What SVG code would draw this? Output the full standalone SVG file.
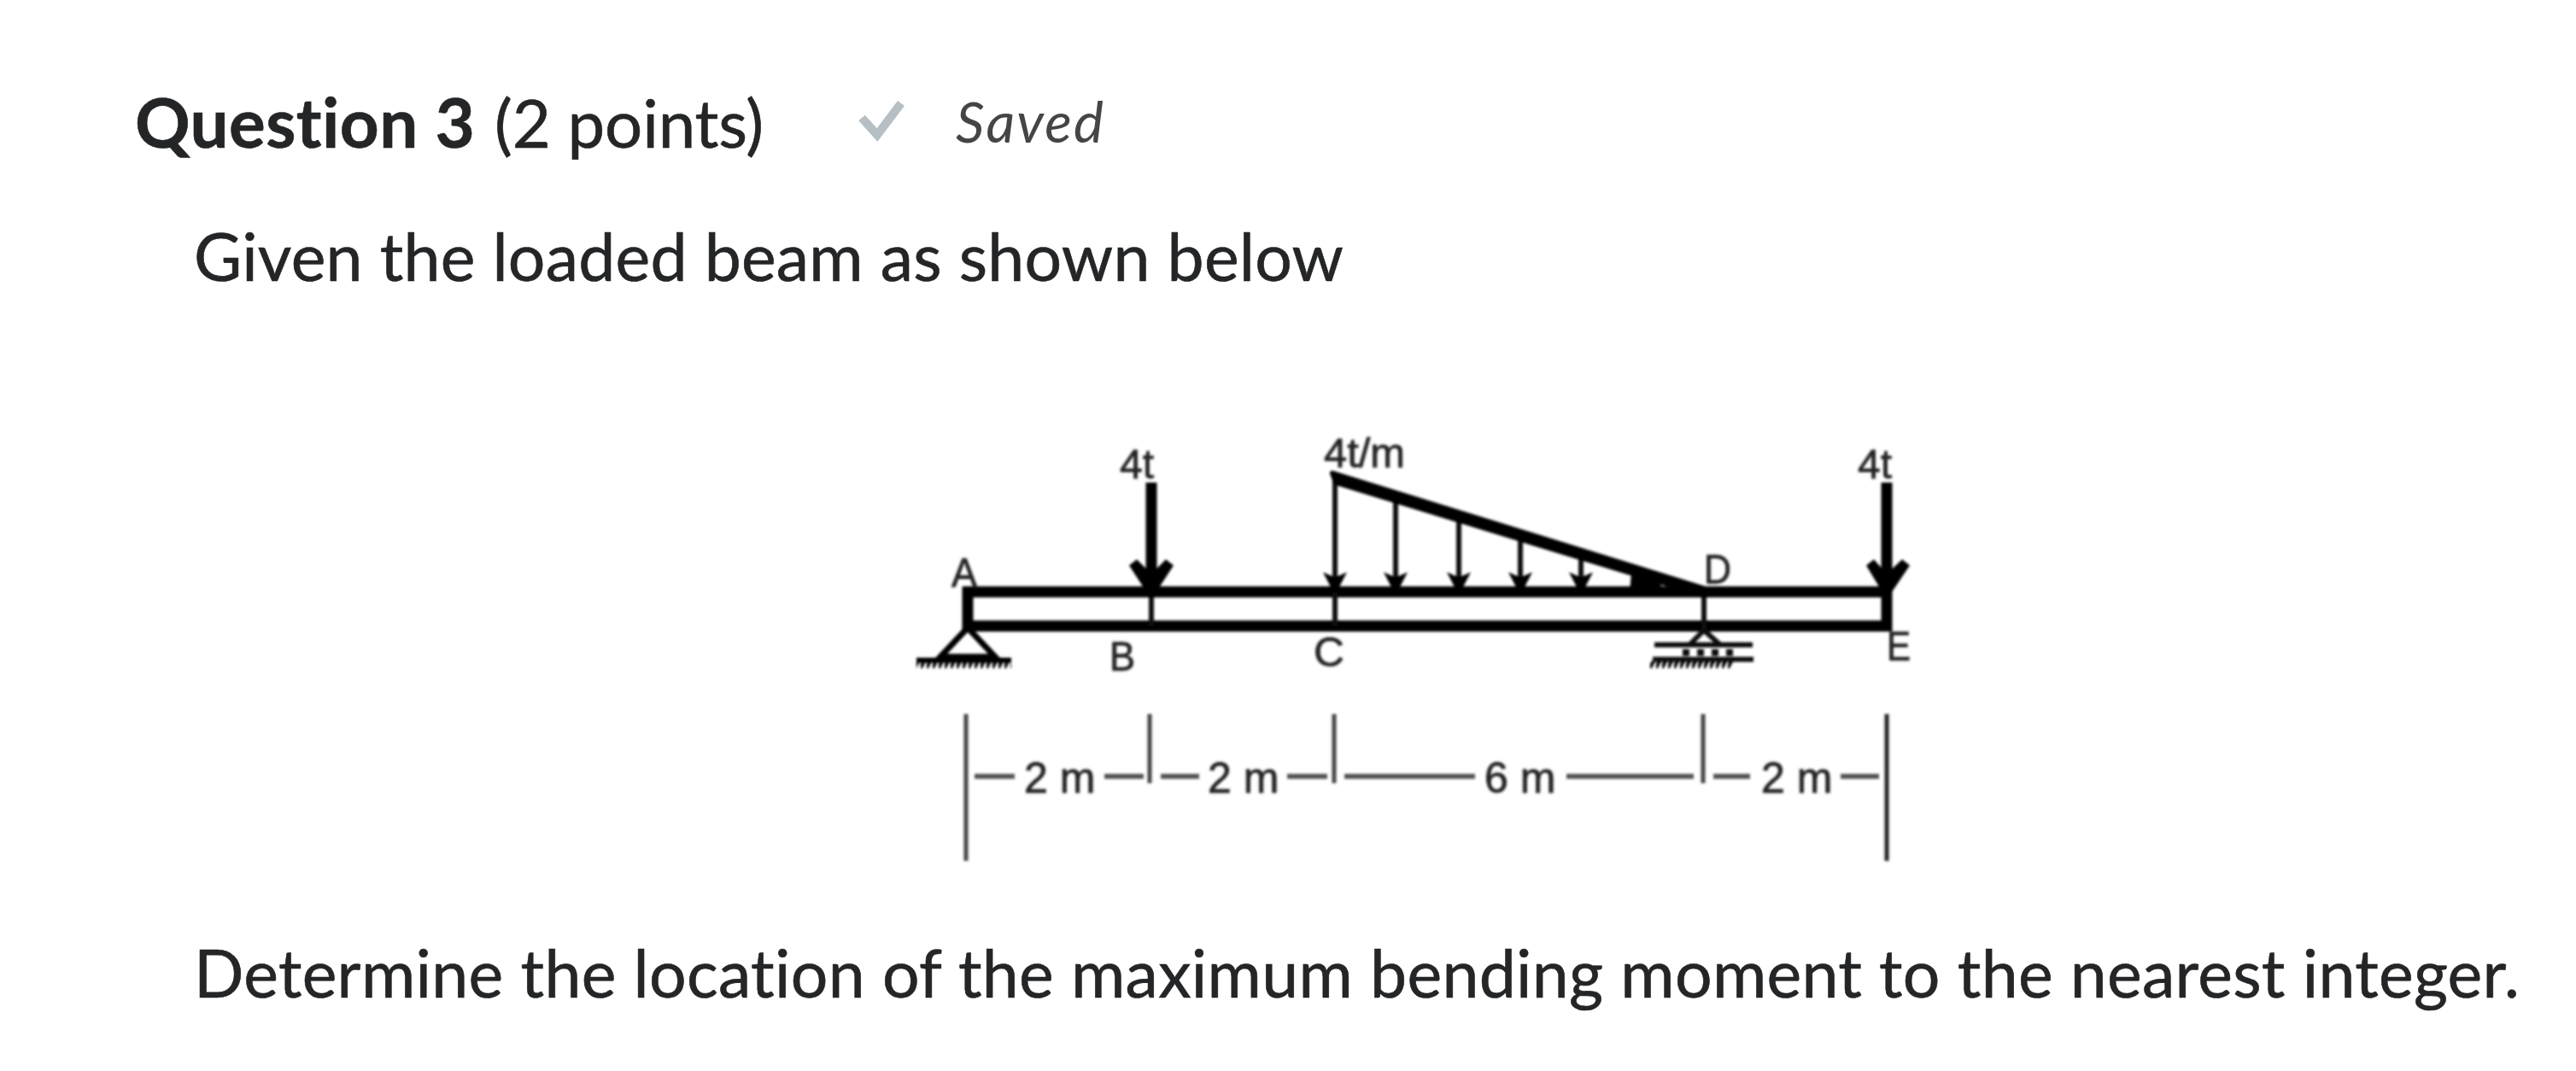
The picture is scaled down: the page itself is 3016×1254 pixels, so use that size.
<svg xmlns="http://www.w3.org/2000/svg" width="3016" height="1254" viewBox="0 0 3016 1254">
<defs>
<filter id="soft" x="-5%" y="-5%" width="110%" height="110%"><feGaussianBlur stdDeviation="1.5"/></filter>
<pattern id="hatch" width="7" height="14" patternUnits="userSpaceOnUse"><path d="M6 0L0 12" stroke="#000" stroke-width="4"/></pattern>
</defs>
<style>
.h{font-family:Lato,"Open Sans",sans-serif;fill:#232527;stroke:#232527;stroke-width:.6;font-variant-ligatures:none}
.f{font-family:"Liberation Sans",Arial,sans-serif;fill:#222;stroke:#222;stroke-width:.8}
.d{font-size:50px}
.l{font-size:48px}
.tick{stroke:#444;stroke-width:5;fill:none}
.dim{stroke:#555;stroke-width:6;fill:none}
.beam{stroke:#000;stroke-width:13;fill:none}
.thin{stroke:#111;stroke-width:6;fill:none}
.head{fill:#000}
</style>
<rect width="3016" height="1254" fill="#fff"/>
<g id="header">
<text class="h" x="158" y="173" font-size="80" font-weight="700" textLength="398">Question 3</text>
<text class="h" x="579" y="173" font-size="78" textLength="315">(2 points)</text>
<path d="M1009 138L1027 158L1055 121" fill="none" stroke="#b5bfc4" stroke-width="10"/>
<text class="h" x="1119" y="167" font-size="66" font-style="italic" fill-opacity="0.85" stroke-opacity="0" textLength="173">Saved</text>
</g>
<text id="prompt" class="h" x="227" y="329" font-size="77" textLength="1346">Given the loaded beam as shown below</text>
<g id="diagram" filter="url(#soft)">
<g id="connectors">
<path class="beam" d="M1127 693H2215M1127 733H2215M1133 687V739M2209 687V739"/>
<path class="thin" d="M1348 690V733M1563 558V733M1995 692V738M1634 585V690M1708 610V690M1780 632V690M1851 655V690"/>
<path d="M1560 554L1564 565 1995 697 1995 689Z" stroke="#000" stroke-width="6" stroke-linejoin="round" fill="#000"/>
</g>
<g id="load-b"><path class="beam" d="M1348 565V690"/><path class="head" d="M1322 662L1331 655 1348 672 1365 655 1374 662 1348 702Z"/></g>
<g id="load-e"><path class="beam" d="M2209 565V690"/><path class="head" d="M2185 662L2194 655 2209 672 2227 655 2236 662 2209 702Z"/></g>
<g id="dist-heads">
<path class="head" d="M1549 670L1563 676 1577 670 1563 697Z"/>
<path class="head" d="M1620 670L1634 676 1648 670 1634 697Z"/>
<path class="head" d="M1694 670L1708 676 1722 670 1708 697Z"/>
<path class="head" d="M1766 670L1780 676 1794 670 1780 697Z"/>
<path class="head" d="M1837 670L1851 676 1865 670 1851 697Z"/>
<path class="head" d="M1910 670L1940 680 1952 694H1908Z"/>
</g>
<g id="support-a">
<path d="M1133 735L1101 769H1165Z" fill="none" stroke="#000" stroke-width="7"/>
<rect x="1073" y="770" width="111" height="6" fill="#000"/>
<rect x="1073" y="773" width="111" height="11" fill="url(#hatch)"/>
</g>
<g id="support-d">
<path d="M1995 738L1978 755M1995 738L2014 755" stroke="#111" stroke-width="6" fill="none"/>
<path d="M1937 755H2052M1935 772H2053" stroke="#111" stroke-width="6" fill="none"/>
<path d="M1970 764h8m9 0h8m9 0h8m9 0h8" stroke="#111" stroke-width="8" fill="none"/>
<rect x="1932" y="774" width="98" height="10" fill="url(#hatch)"/>
</g>
<g id="labels">
<text class="f l" x="1311" y="560">4t</text>
<text class="f l" x="1550" y="547" textLength="95" lengthAdjust="spacingAndGlyphs">4t/m</text>
<text class="f l" x="2175" y="560">4t</text>
<text class="f l" x="1114" y="687" textLength="30" lengthAdjust="spacingAndGlyphs">A</text>
<text class="f l" x="1299" y="785" textLength="30" lengthAdjust="spacingAndGlyphs">B</text>
<text class="f l" x="1538" y="780" textLength="36" lengthAdjust="spacingAndGlyphs">C</text>
<text class="f l" x="1995" y="683" textLength="32" lengthAdjust="spacingAndGlyphs">D</text>
<text class="f l" x="2209" y="773" textLength="28" lengthAdjust="spacingAndGlyphs">E</text>
</g>
<g id="dimensions">
<path class="tick" d="M1131 836V1008M1346 836V917M1562 836V917M1994 836V917"/>
<path d="M2209 836V1008" stroke="#222" stroke-width="5"/>
<path class="dim" d="M1141 909H1188M1293 909H1339M1359 909H1404M1507 909H1554M1574 909H1727M1834 909H1983M2006 909H2049M2155 909H2200"/>
<text class="f d" x="1199" y="928">2 m</text>
<text class="f d" x="1414" y="928">2 m</text>
<text class="f d" x="1738" y="928">6 m</text>
<text class="f d" x="2062" y="928">2 m</text>
</g>
</g>
<text id="question" class="h" x="227" y="1168" font-size="77" textLength="2723">Determine the location of the maximum bending moment to the nearest integer.</text>
</svg>
